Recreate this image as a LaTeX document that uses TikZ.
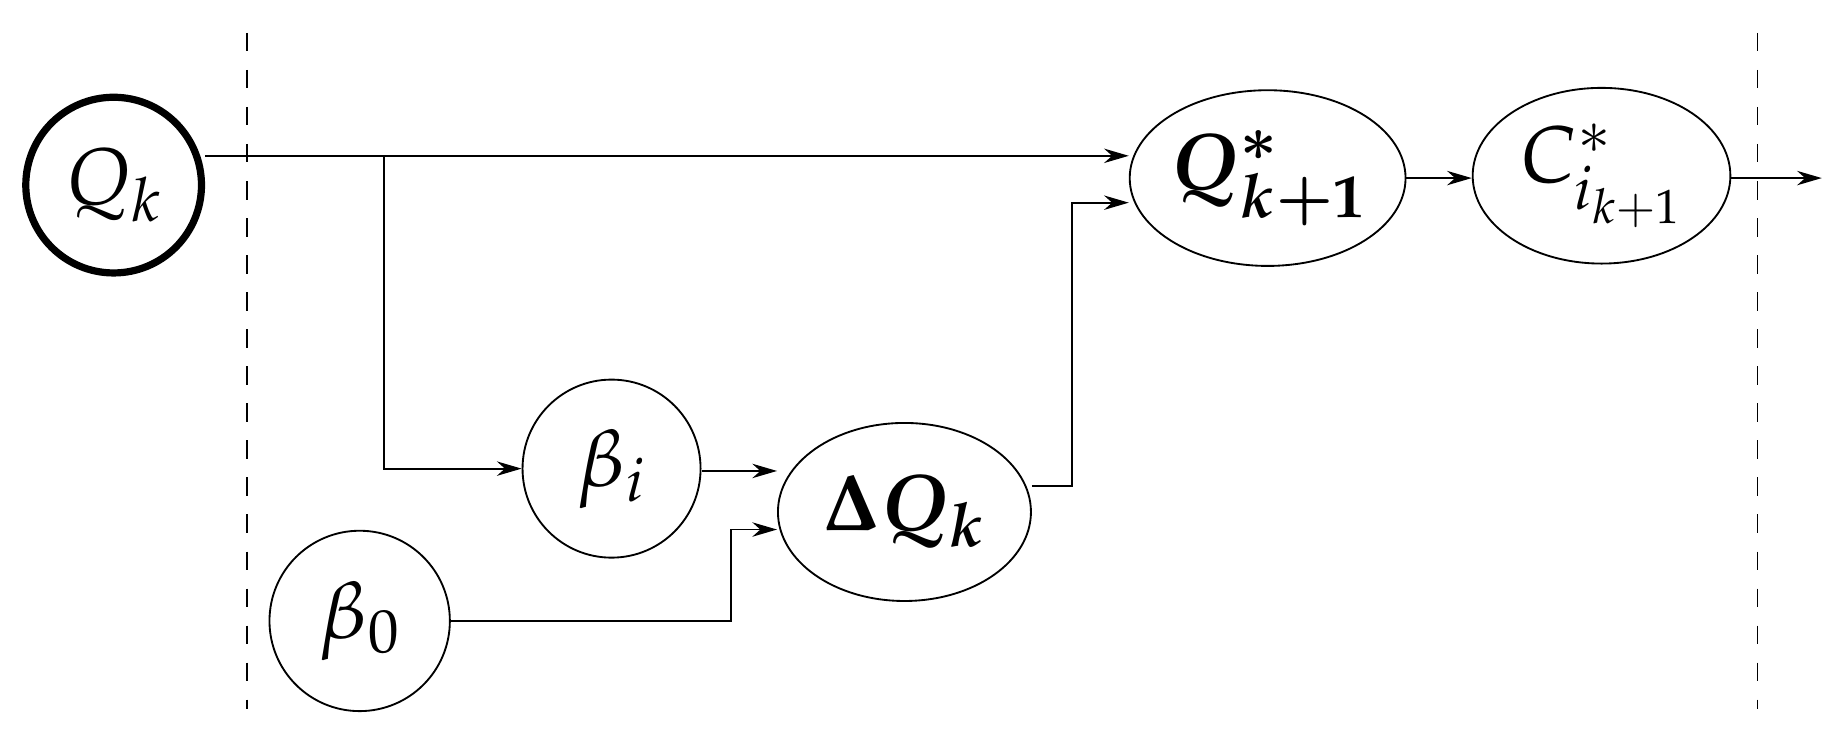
\documentclass[tikz,border=0pt]{standalone}
\usepackage{mathpazo}
\usepackage{amsmath}
\usetikzlibrary{arrows.meta,shapes.geometric}
\begin{document}
\begin{tikzpicture}[x=0.02cm,y=-0.02cm,
  el/.style={draw,ellipse,line width=0.9pt,inner sep=0pt,font=\fontsize{39}{44}\selectfont},
  ar/.style={line width=0.9pt,-{Stealth[length=12pt,width=7pt]}},
  ln/.style={line width=0.9pt}]
\useasboundingbox (0,0) rectangle (1568,638);
\draw[dashed,line width=0.8pt,dash pattern=on 9pt off 9pt] (211,28) -- (211,605);
\draw[dashed,line width=0.8pt,dash pattern=on 9pt off 9pt] (1500,28) -- (1500,605);
\node[el,line width=3.5pt,minimum width=3cm,minimum height=3cm] (qk) at (97,158) {$Q_k$};
\node[el,minimum width=4.32cm,minimum height=3cm] (qs) at (1082,152) {$\boldsymbol{Q^*_{k+1}}$};
\node[el,minimum width=4.4cm,minimum height=3cm] (cs) at (1367,150) {$C^*_{i_{k+1}}$};
\node[el,minimum width=3.04cm,minimum height=3.04cm] (bi) at (522,400) {$\beta_i$};
\node[el,minimum width=4.32cm,minimum height=3.04cm] (dq) at (772,437) {$\boldsymbol{\Delta Q_k}$};
\node[el,minimum width=3.08cm,minimum height=3.08cm] (b0) at (307,530) {$\beta_0$};
\coordinate (o) at (1555,152);
\coordinate (j) at (328,133);
\draw[ar] (qk.east |- j) -- (j) -- (qs.west |- j);
\draw[ar] (j) |- (bi.west);
\draw[ar] (bi.east |- 0,402) -- (dq.west |- 0,402);
\draw[ar] (b0.east) -- (624,530) |- (dq.west |- 0,452);
\draw[ar] (dq.east |- 0,415) -- (915,415) |- (qs.west |- 0,173);
\draw[ar] (qs.east |- 0,152) -- (cs.west |- 0,152);
\draw[ar] (cs.east |- 0,152) -- (o);
\end{tikzpicture}
\end{document}
